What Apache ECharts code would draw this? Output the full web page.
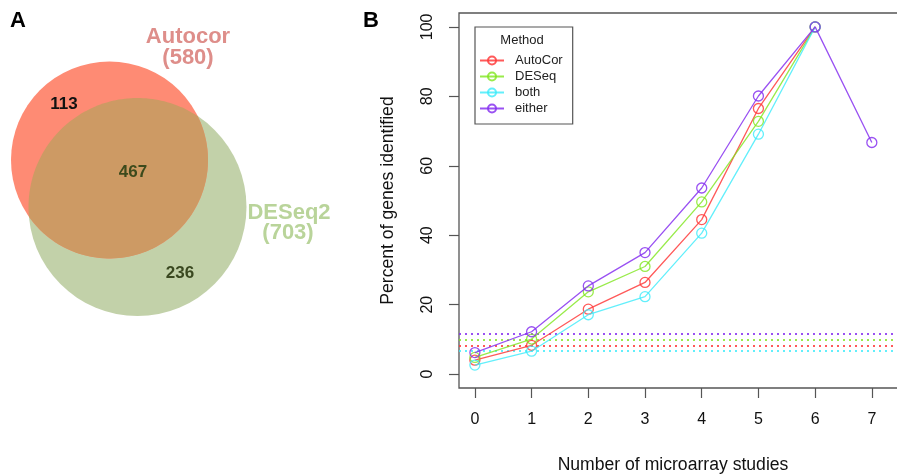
<!DOCTYPE html>
<html>
<head>
<meta charset="utf-8">
<script src="https://cdn.jsdelivr.net/npm/echarts@6/dist/echarts.min.js"></script>
<style>html,body{margin:0;padding:0;background:#fff}#c{width:897px;height:474px}</style>
</head>
<body>
<div id="c"></div>
<script>
// ---- Data ----
var studies = [0, 1, 2, 3, 4, 5, 6, 7];
var methodNames = ['AutoCor', 'DESeq', 'both', 'either'];
var autocorPct = [4.0, 8.3, 18.7, 26.4, 44.5, 76.5, 100];
var deseqPct = [4.8, 10.1, 23.7, 31.0, 49.6, 72.8, 100];
var bothPct = [2.6, 6.6, 17.1, 22.3, 40.6, 69.1, 100];
var eitherPct = [6.2, 12.2, 25.4, 35.0, 53.6, 80.1, 100, 66.7];
var baselinePct = [8.2, 10.0, 6.7, 11.5];
var yTicks = [0, 20, 40, 60, 80, 100];
var xTicks = [0, 1, 2, 3, 4, 5, 6, 7];
var vennSetNames = ['Autocor', 'DESeq2'];
var vennSetTotals = [580, 703];
var vennRegionCounts = [113, 467, 236]; // only Autocor, both, only DESeq2

var colors = ['rgba(255,60,60,0.85)', 'rgba(128,230,30,0.8)', 'rgba(60,235,250,0.8)', 'rgba(135,50,240,0.85)'];
var seriesValues = [autocorPct, deseqPct, bothPct, eitherPct];
var FONT = '"Liberation Sans", Arial, Helvetica, sans-serif';

var chart = echarts.init(document.getElementById('c'));

var series = methodNames.map(function (name, i) {
  return {
    name: name,
    type: 'line',
    data: seriesValues[i].map(function (v, j) { return [studies[j], v]; }),
    symbol: 'circle',
    symbolSize: 10,
    showSymbol: true,
    animation: false,
    color: colors[i],
    lineStyle: { width: 1.3, color: colors[i] },
    itemStyle: { color: 'rgba(0,0,0,0)', borderWidth: 1.3, borderColor: colors[i] },
    z: 10 + i,
    markLine: {
      silent: true,
      symbol: ['none', 'none'],
      label: { show: false },
      lineStyle: { type: [2, 4], width: 2, color: colors[i] },
      data: [{ yAxis: baselinePct[i] }],
      animation: false
    }
  };
});

// ---- Venn geometry (pixel layout) ----
var cA = { x: 109.5, y: 160, r: 98.5 };
var cB = { x: 137.5, y: 207, r: 109 };
function lensPoints(a, b) {
  var dx = b.x - a.x, dy = b.y - a.y, d = Math.sqrt(dx * dx + dy * dy);
  var ux = dx / d, uy = dy / d;
  var aa = (a.r * a.r - b.r * b.r + d * d) / (2 * d);
  var h = Math.sqrt(a.r * a.r - aa * aa);
  var mx = a.x + aa * ux, my = a.y + aa * uy;
  var nx = -uy, ny = ux;
  var p1 = [mx + h * nx, my + h * ny], p2 = [mx - h * nx, my - h * ny];
  var pts = [];
  function arc(c, from, to) {
    var t0 = Math.atan2(from[1] - c.y, from[0] - c.x);
    var t1 = Math.atan2(to[1] - c.y, to[0] - c.x);
    while (t1 > t0) t1 -= 2 * Math.PI;
    var n = 80;
    for (var k = 0; k <= n; k++) {
      var t = t0 + (t1 - t0) * k / n;
      pts.push([c.x + c.r * Math.cos(t), c.y + c.r * Math.sin(t)]);
    }
  }
  arc(a, p1, p2);
  arc(b, p2, p1);
  return pts;
}

var graphics = [
  { type: 'circle', shape: { cx: cB.x, cy: cB.y, r: cB.r }, style: { fill: '#C2D1A9' }, z: 1 },
  { type: 'circle', shape: { cx: cA.x, cy: cA.y, r: cA.r }, style: { fill: '#FE8B74' }, z: 2 },
  { type: 'polygon', shape: { points: lensPoints(cA, cB) }, style: { fill: '#CD9A64' }, z: 3 },
  { type: 'text', x: 18, y: 21, style: { text: 'A', font: 'bold 22px ' + FONT, fill: '#000', align: 'center', verticalAlign: 'middle' }, z: 5 },
  { type: 'text', x: 371, y: 21, style: { text: 'B', font: 'bold 22px ' + FONT, fill: '#000', align: 'center', verticalAlign: 'middle' }, z: 5 },
  { type: 'text', x: 188, y: 37, style: { text: vennSetNames[0], font: 'bold 22px ' + FONT, fill: '#DE8E8A', align: 'center', verticalAlign: 'middle' }, z: 5 },
  { type: 'text', x: 188, y: 58, style: { text: '(' + vennSetTotals[0] + ')', font: 'bold 22px ' + FONT, fill: '#DE8E8A', align: 'center', verticalAlign: 'middle' }, z: 5 },
  { type: 'text', x: 289, y: 213, style: { text: vennSetNames[1], font: 'bold 22px ' + FONT, fill: '#B9D49A', align: 'center', verticalAlign: 'middle' }, z: 5 },
  { type: 'text', x: 288, y: 233, style: { text: '(' + vennSetTotals[1] + ')', font: 'bold 22px ' + FONT, fill: '#B9D49A', align: 'center', verticalAlign: 'middle' }, z: 5 },
  { type: 'text', x: 64, y: 104, style: { text: String(vennRegionCounts[0]), font: 'bold 17px ' + FONT, fill: '#111', align: 'center', verticalAlign: 'middle' }, z: 5 },
  { type: 'text', x: 133, y: 172, style: { text: String(vennRegionCounts[1]), font: 'bold 17px ' + FONT, fill: '#3C4A1C', align: 'center', verticalAlign: 'middle' }, z: 5 },
  { type: 'text', x: 180, y: 273, style: { text: String(vennRegionCounts[2]), font: 'bold 17px ' + FONT, fill: '#3A4820', align: 'center', verticalAlign: 'middle' }, z: 5 },
  { type: 'text', x: 522, y: 40, style: { text: 'Method', font: '13px ' + FONT, fill: '#222', align: 'center', verticalAlign: 'middle' }, z: 20 }
];

chart.setOption({
  animation: false,
  backgroundColor: '#fff',
  textStyle: { fontFamily: FONT },
  grid: { left: 459, top: 13, width: 448, height: 375, show: true, borderColor: '#555', borderWidth: 1.3, backgroundColor: 'transparent', outerBoundsMode: 'none', containLabel: false },
  xAxis: {
    type: 'value', min: -0.28, max: 7.62,
    splitLine: { show: false },
    axisLine: { show: false, onZero: false },
    axisTick: { show: true, length: 10, inside: false, customValues: xTicks, lineStyle: { color: '#555', width: 1.2 } },
    axisLabel: { customValues: xTicks, margin: 24, fontSize: 16, color: '#111', fontFamily: FONT },
    name: 'Number of microarray studies', nameLocation: 'middle', nameGap: 68,
    nameTextStyle: { fontSize: 17.6, color: '#111', fontFamily: FONT, padding: [0, 20, 0, 0] }
  },
  yAxis: {
    type: 'value', min: -4, max: 104,
    splitLine: { show: false },
    axisLine: { show: false, onZero: false },
    axisTick: { show: true, length: 10, inside: false, customValues: yTicks, lineStyle: { color: '#555', width: 1.2 } },
    axisLabel: { customValues: yTicks, rotate: 90, margin: 23, fontSize: 16, color: '#111', fontFamily: FONT },
    name: 'Percent of genes identified', nameLocation: 'middle', nameGap: 62,
    nameTextStyle: { fontSize: 17.6, color: '#111', fontFamily: FONT }
  },
  legend: {
    orient: 'vertical', left: 475, top: 27,
    data: methodNames,
    itemWidth: 24, itemHeight: 10, itemGap: 3,
    padding: [27, 10, 9, 4],
    borderColor: '#555', borderWidth: 1.2,
    backgroundColor: '#fff',
    textStyle: { fontSize: 13, color: '#222', fontFamily: FONT, padding: [0, 0, 0, 6] },
    selectedMode: false
  },
  graphic: graphics,
  series: series
});
</script>
</body>
</html>
